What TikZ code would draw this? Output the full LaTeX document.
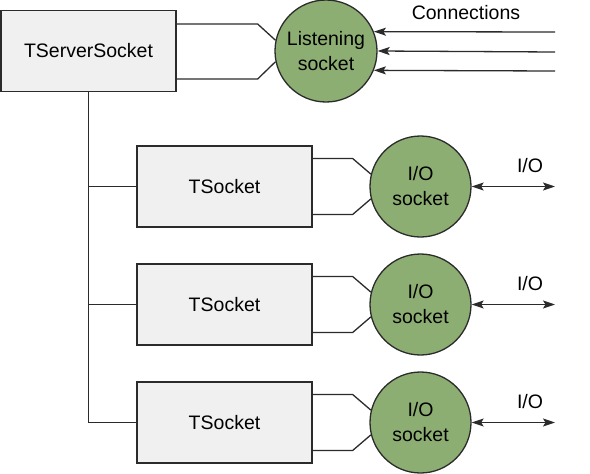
\documentclass[tikz,border=0pt]{standalone}
\usepackage{fontspec}
\setmainfont{Liberation Sans}
\usetikzlibrary{arrows.meta}
\definecolor{sockgreen}{HTML}{8DAE72}
\definecolor{boxgray}{HTML}{F0F0F0}
\definecolor{linegray}{HTML}{2B2B2B}
\tikzset{
	box/.style={draw=linegray, fill=boxgray, line width=1.3pt, minimum width=175pt, minimum height=81pt, inner sep=0pt},
	sock/.style={circle, draw=linegray, fill=sockgreen, line width=1.3pt, minimum size=101pt, inner sep=0pt, align=center},
	wire/.style={draw=linegray, line width=1.3pt},
	tip/.tip={Stealth[length=12pt,width=8pt,inset=2.5pt]}
}
\begin{document}
\begin{tikzpicture}[x=1pt, y=-1pt, font=\fontsize{19.5}{25}\selectfont]
	\useasboundingbox (0,0) rectangle (590,474);
	\node[box] (srv) at (88.5,51) {TServerSocket};
	\node[sock, minimum size=102pt] (lsn) at (326,51) {Listening\\socket};
	\node (conn) at (466,13) {Connections};
	\coordinate (in1) at (555,32);
	\coordinate (in2) at (555,52);
	\coordinate (in3) at (555,71);
	\draw[wire] ([yshift=27pt]srv.east) -- ++(81,0) -- (lsn.168);
	\draw[wire] ([yshift=-28pt]srv.east) -- ++(81,0) -- (lsn.192);
	\draw[wire,-tip] (in1) -- (lsn.22);
	\draw[wire,-tip] (in2) -- (lsn.east);
	\draw[wire,-tip] (in3) -- (lsn.338);
	\foreach \i/\y in {1/186.5, 2/304.5, 3/422.5} {
		\node[box] (sk\i) at (224.5,\y) {TSocket};
		\node[sock] (io\i) at (420.5,\y) {I/O\\socket};
		\node (lbl\i) at (530,\y-21) {I/O};
		\coordinate (out\i) at (555,\y);
		\draw[wire] ([yshift=28pt]sk\i.east) -- ++(40,0) -- (io\i.166);
		\draw[wire] ([yshift=-28pt]sk\i.east) -- ++(40,0) -- (io\i.194);
		\draw[wire,tip-tip] (io\i.east) -- (out\i);
		\draw[wire] (srv.south |- sk\i.west) -- (sk\i.west);
	}
	\draw[wire] (srv.south) -- (srv.south |- sk3.west);
\end{tikzpicture}
\end{document}
